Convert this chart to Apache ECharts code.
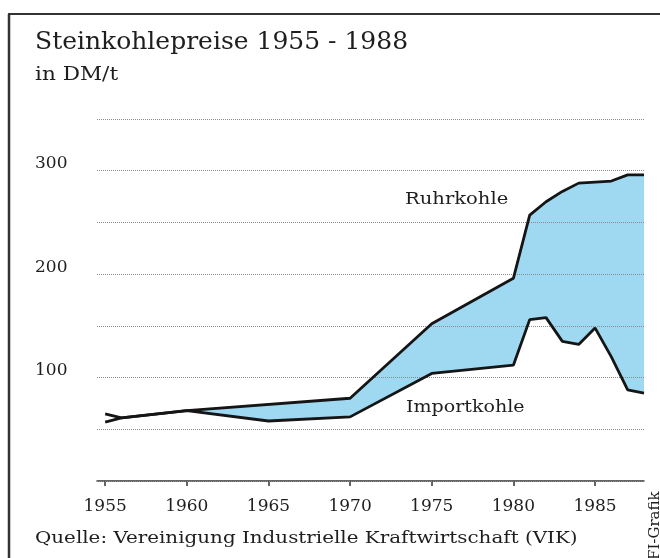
<!DOCTYPE html>
<html>
<head>
<meta charset="utf-8">
<script src="https://cdn.jsdelivr.net/npm/echarts@6/dist/echarts.min.js"></script>
<style>
  html, body { margin: 0; padding: 0; background: #fff; }
  #chart { width: 660px; height: 558px; }
</style>
</head>
<body>
<div id="chart"></div>
<script>
// Preise in DM/t, [Jahr, Wert]
var ruhrkohle = [
  [1955, 57], [1956, 61], [1960, 68], [1970, 80], [1975, 152], [1980, 196],
  [1981, 257], [1982, 270], [1983, 280], [1984, 288], [1985, 289], [1986, 290],
  [1987, 296], [1988, 296]
];
var importkohle = [
  [1955, 65], [1956, 61], [1960, 68], [1965, 58], [1970, 62], [1975, 104],
  [1980, 112], [1981, 156], [1982, 158], [1983, 135], [1984, 132], [1985, 148],
  [1986, 120], [1987, 88], [1988, 85]
];
var tickYears = [1955, 1960, 1965, 1970, 1975, 1980, 1985];
var yLabels = [100, 200, 300];

var serif = '"DejaVu Serif", serif';
var ink = '#1e1e1e';

var chart = echarts.init(document.getElementById('chart'));

// Flaeche zwischen Ruhr- und Importkohle, ab dem Schnittpunkt 1956
var fillFrom = 1956;
function fillPoly(params, api) {
  if (params.dataIndex !== 0) return;
  var top = ruhrkohle.filter(function (p) { return p[0] >= fillFrom; });
  var bot = importkohle.filter(function (p) { return p[0] >= fillFrom; }).reverse();
  var pts = top.concat(bot).map(function (p) { return api.coord(p); });
  return {
    type: 'polygon',
    shape: { points: pts },
    style: { fill: '#9fd8f1' }
  };
}

// Beschriftung, etwas breit laufend wie im Original
function label(text, x, y, size, sx) {
  return {
    type: 'text', x: x, y: y, scaleX: sx || 1,
    style: { text: text, font: size + 'px ' + serif, fill: ink, align: 'left', verticalAlign: 'middle' }
  };
}

var option = {
  animation: false,
  backgroundColor: '#fff',
  grid: { left: 97, right: 16, top: 119, bottom: 77 },
  xAxis: {
    type: 'value',
    min: 1954.5,
    max: 1988,
    splitLine: { show: false },
    axisLine: { lineStyle: { color: '#333', width: 1.5 } },
    axisTick: { customValues: tickYears, length: 5, lineStyle: { color: '#333', width: 1.5 } },
    axisLabel: {
      customValues: tickYears,
      formatter: function (v) { return String(v); },
      fontFamily: serif, fontSize: 17, color: ink, margin: 17
    }
  },
  yAxis: {
    type: 'value',
    min: 0,
    max: 350,
    interval: 50,
    z: 3,
    axisLine: { show: false },
    axisTick: { show: false },
    splitLine: { lineStyle: { color: '#8a8a8a', type: 'dotted', width: 1 } },
    axisLabel: {
      align: 'left',
      verticalAlign: 'bottom',
      lineHeight: 14,
      margin: 62,
      fontFamily: serif, fontSize: 17, color: ink,
      formatter: function (v) { return yLabels.indexOf(v) >= 0 ? String(v) : ''; }
    }
  },
  graphic: [
    { type: 'line', shape: { x1: 8, y1: 14, x2: 660, y2: 14 }, style: { stroke: '#333', lineWidth: 2 } },
    { type: 'line', shape: { x1: 9, y1: 14, x2: 9, y2: 558 }, style: { stroke: '#333', lineWidth: 2.5 } },
    label('Steinkohlepreise 1955 - 1988', 35, 42, 25, 1),
    label('in DM/t', 35, 75, 18, 1.2),
    label('Ruhrkohle', 405, 200, 17, 1.15),
    label('Importkohle', 406, 408, 17, 1.12),
    label('Quelle: Vereinigung Industrielle Kraftwirtschaft (VIK)', 35, 539, 17, 1.17),
    {
      type: 'text', x: 655, y: 560, rotation: Math.PI / 2,
      style: { text: 'FI-Grafik', font: '15px ' + serif, fill: ink, align: 'left', verticalAlign: 'middle' }
    }
  ],
  series: [
    {
      type: 'custom',
      z: 1,
      renderItem: fillPoly,
      data: [ruhrkohle[1]],
      silent: true
    },
    {
      name: 'Ruhrkohle',
      type: 'line',
      z: 5,
      data: ruhrkohle,
      symbol: 'none',
      lineStyle: { color: '#151515', width: 2.8 }
    },
    {
      name: 'Importkohle',
      type: 'line',
      z: 5,
      data: importkohle,
      symbol: 'none',
      lineStyle: { color: '#151515', width: 2.8 }
    }
  ]
};

chart.setOption(option);
</script>
</body>
</html>
